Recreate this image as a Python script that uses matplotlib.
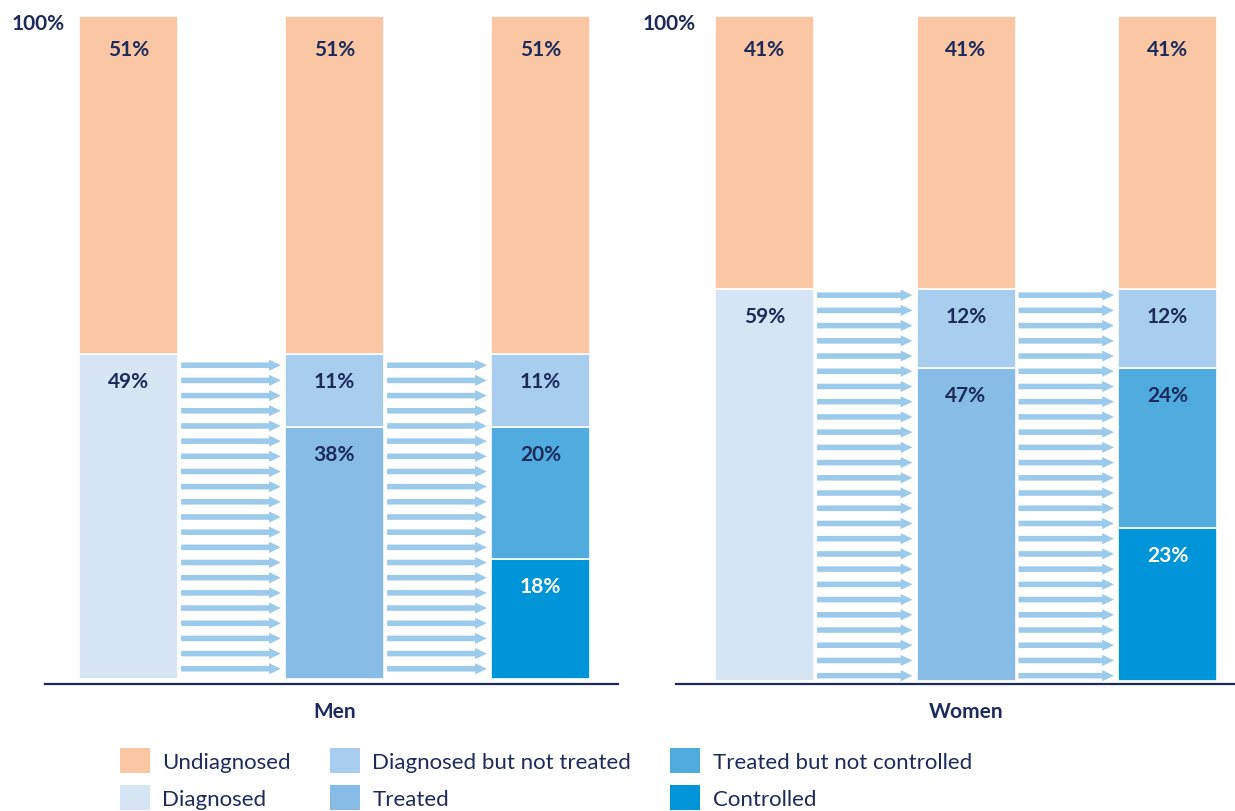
import numpy as np
import matplotlib.pyplot as plt
from matplotlib.patches import FancyArrowPatch, Patch

plt.rcParams['font.family'] = ['Lato', 'DejaVu Sans']

# datos
groups = ["Men", "Women"]
undiagnosed = [51, 41]
diagnosed = [49, 59]
diag_not_treated = [11, 12]
treated = [38, 47]
treated_not_controlled = [20, 24]
controlled = [18, 23]

legend_labels = ["Undiagnosed", "Diagnosed", "Diagnosed but not treated",
                 "Treated", "Treated but not controlled", "Controlled"]
colors = {
    "Undiagnosed": "#FBC6A4",
    "Diagnosed": "#D6E5F4",
    "Diagnosed but not treated": "#A9CDEE",
    "Treated": "#86BCE5",
    "Treated but not controlled": "#50ACDF",
    "Controlled": "#0095D8",
}
navy = "#1C2B5A"
arrow_col = "#9CCAEB"

W, H = 1235, 812
fig = plt.figure(figsize=(W / 100, H / 100), dpi=100)

# posiciones de los paneles en pixeles (izq, der, paso, offset, ymin, hueco flechas)
panels = [(45, 618, 206, 83.5, -0.8, 1.7), (676, 1235, 201.5, 88.5, -0.5, 1.0)]
top_px, bot_px = 17, 685


def seg_label(ax, x, top, text, color=navy, dy=-19):
    ax.annotate(text, (x, top), xytext=(0, dy), textcoords="offset points",
                ha="center", va="center", fontsize=15, fontweight="bold", color=color)


for g, (l, r, step, off, ymin, gap) in enumerate(panels):
    ax = fig.add_axes([l / W, 1 - bot_px / H, (r - l) / W, (bot_px - top_px) / H])
    w = 99 / step
    ax.set_xlim(-off / step, -off / step + (r - l) / step)
    ax.set_ylim(ymin, 100)

    stacks = [
        [("Diagnosed", diagnosed[g]), ("Undiagnosed", undiagnosed[g])],
        [("Treated", treated[g]), ("Diagnosed but not treated", diag_not_treated[g]),
         ("Undiagnosed", undiagnosed[g])],
        [("Controlled", controlled[g]), ("Treated but not controlled", treated_not_controlled[g]),
         ("Diagnosed but not treated", diag_not_treated[g]), ("Undiagnosed", undiagnosed[g])],
    ]
    for i, stack in enumerate(stacks):
        bottom = 0
        for name, val in stack:
            ax.bar(i, val, bottom=bottom, width=w, color=colors[name],
                   edgecolor="white", linewidth=1.2)
            tc = "white" if name == "Controlled" else navy
            dy = -23.5 if name == "Undiagnosed" else -19.5
            seg_label(ax, i, bottom + val, f"{val}%", tc, dy)
            bottom += val

    # flechas entre barras
    ys = np.arange(diagnosed[g] - gap, 0.3, -2.29)
    for i in range(2):
        x0 = i + w / 2 + 0.015
        x1 = i + 1 - w / 2 - 0.02
        for y in ys:
            ax.add_patch(FancyArrowPatch((x0, y), (x1, y),
                                         arrowstyle="simple,head_length=8.5,head_width=8,tail_width=4",
                                         mutation_scale=1, shrinkA=0, shrinkB=0,
                                         color=arrow_col, lw=0))

    for s in ["top", "right", "left"]:
        ax.spines[s].set_visible(False)
    ax.spines["bottom"].set_color(navy)
    ax.spines["bottom"].set_linewidth(1.6)
    ax.set_yticks([])
    ax.set_xticks([1], [groups[g]])
    ax.tick_params(axis="x", length=0, pad=12, labelsize=15, labelcolor=navy)
    for t in ax.get_xticklabels():
        t.set_fontweight("bold")
    ax.text(0.035, 98.9, "100%", transform=ax.get_yaxis_transform(), ha="right",
            va="center", fontsize=15, fontweight="bold", color=navy)

handles = [Patch(facecolor=colors[n], edgecolor="none", label=n) for n in legend_labels]
fig.legend(handles=handles, loc="upper left", bbox_to_anchor=(120 / W, 1 - 749 / H),
           ncol=3, frameon=False, fontsize=16, handlelength=1.36, handleheight=1.36,
           handletextpad=0.55, columnspacing=1.75, labelspacing=0.55,
           borderpad=0, borderaxespad=0, labelcolor=navy)

plt.savefig("out.png", dpi=100)
